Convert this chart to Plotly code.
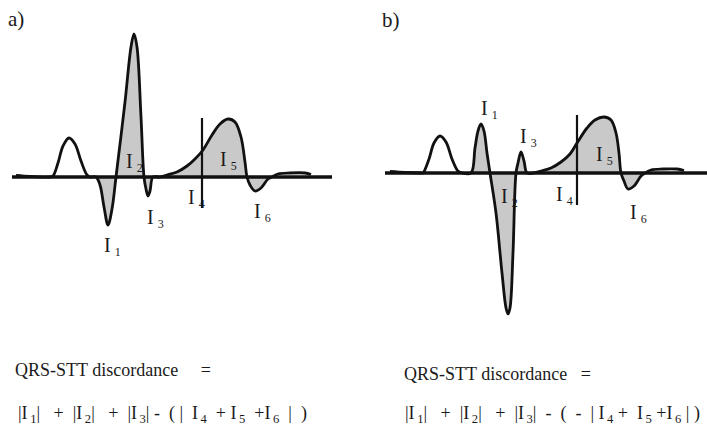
import plotly.graph_objects as go

# ---------------- data ----------------
# Panel a: time positions and amplitudes of the waveform control points
t_a = [16, 30, 50, 53, 58, 63, 69, 75, 81, 87, 90, 96,
       100, 104, 108, 112, 116,
       125, 131, 134, 137, 141, 144,
       146, 148, 150, 153, 160,
       167, 177, 187, 195, 203, 212, 220, 228, 235, 241, 245, 247,
       250, 255, 261, 268, 272,
       278, 290, 305, 311]
v_a = [1.5, 0.5, 0, 1, 14, 31, 39, 33, 16, 2, 0, 0,
       -8, -30, -48, -32, 0,
       75, 130, 143, 130, 60, 0,
       -12, -19, -14, 0, 0,
       2, 5, 11, 18, 27, 42, 53, 58, 55, 40, 15, 0,
       -8, -14, -11, -2, 0,
       3, 4, 4, 2.5]
fill_a = (11, 44)          # index range of shaded lobes (I1..I6)
base_a = [12, 332]
mark_a = 202               # vertical divider
mark_a_y = [59, -31]

# Panel b
t_b = [390, 405, 421, 423, 429, 434, 440, 446, 452, 458, 462, 471,
       475, 478, 481, 484, 487, 490,
       496, 502, 506, 508, 510, 513, 516,
       518, 521, 524, 527, 533,
       541, 551, 561, 570, 577, 587, 595, 604, 611, 616, 619, 621,
       624, 628, 634, 641, 645,
       651, 663, 677, 684]
v_b = [1.5, 0.5, 0, 0, 14, 30, 37, 31, 14, 2, 0, 0,
       25, 42, 49, 42, 20, 0,
       -40, -100, -135, -141, -135, -80, 0,
       10, 21, 12, 0, 0,
       2, 5, 11, 19, 30, 45, 53, 56, 53, 40, 20, 0,
       -8, -16, -13, -3, 0,
       3, 4, 4, 2.5]
fill_b = (11, 46)
base_b = [385, 707]
mark_b = 577
mark_b_y = [58, -32]

# labels: (subscript, x, y)
lab_a = [("1", 102, -69), ("2", 124, 15), ("3", 145, -41),
         ("4", 186, -21), ("5", 218, 17), ("6", 252, -35)]
lab_b = [("1", 479, 64), ("2", 499, -24), ("3", 518, 36),
         ("4", 554, -22), ("5", 594, 18), ("6", 628, -40)]

panel_titles = ["a)", "b)"]
eq_title = "QRS-STT discordance"
NB = "\u00a0"

# ---------------- figure ----------------
W, H = 707, 430
LINE = "#111111"
FILL = "#c9c9c9"
FONT = "Liberation Serif, Times New Roman, DejaVu Serif, serif"

fig = go.Figure()

def add_panel(t, v, fr, base, mark, mark_y, xa, ya):
    i0, i1 = fr
    fig.add_trace(go.Scatter(x=t[i0:i1 + 1], y=v[i0:i1 + 1], mode="lines",
                             line=dict(shape="spline", width=0, color=FILL),
                             fill="tozeroy", fillcolor=FILL,
                             xaxis=xa, yaxis=ya, hoverinfo="skip"))
    fig.add_trace(go.Scatter(x=base, y=[0, 0], mode="lines",
                             line=dict(width=3.5, color=LINE),
                             xaxis=xa, yaxis=ya, hoverinfo="skip"))
    fig.add_trace(go.Scatter(x=t, y=v, mode="lines",
                             line=dict(shape="spline", width=2.8, color=LINE),
                             xaxis=xa, yaxis=ya, hoverinfo="skip"))
    fig.add_trace(go.Scatter(x=[mark, mark], y=mark_y, mode="lines",
                             line=dict(width=2.2, color=LINE),
                             xaxis=xa, yaxis=ya, hoverinfo="skip"))

add_panel(t_a, v_a, fill_a, base_a, mark_a, mark_a_y, "x", "y")
add_panel(t_b, v_b, fill_b, base_b, mark_b, mark_b_y, "x2", "y2")

annots = []
for labs, xr, yr in [(lab_a, "x", "y"), (lab_b, "x2", "y2")]:
    for d, x, y in labs:
        annots.append(dict(x=x, y=y, xref=xr, yref=yr,
                           text="I\u2009<sub><span style='font-size:12px'>" + d + "</span></sub>",
                           showarrow=False, xanchor="left", yanchor="middle",
                           font=dict(family=FONT, size=20, color="#1a1a1a")))

def paper(px, py):
    return px / W, 1 - py / H

for title, (px, py) in zip(panel_titles, [(6, 19), (380, 20)]):
    x, y = paper(px, py)
    annots.append(dict(x=x, y=y, xref="paper", yref="paper", text=title, showarrow=False,
                       xanchor="left", yanchor="middle",
                       font=dict(family=FONT, size=21, color="#1a1a1a")))

def sub(d):
    return "I<sub>\u2009" + d + "</sub>"

def sp(n):
    return NB * n

row1 = [eq_title + sp(5) + "=", eq_title + sp(3) + "="]
row2 = [
    "|" + sub("1") + "|" + sp(3) + "+" + sp(2) + "|" + sub("2") + "|" + sp(3) + "+" + sp(2)
    + "|" + sub("3") + "|" + sp(1) + "-" + sp(2) + "(" + sp(1) + "|" + sp(2) + sub("4") + sp(2) + "+"
    + sp(1) + sub("5") + sp(2) + "+" + sub("6") + sp(2) + "|" + sp(2) + ")",
    "|" + sub("1") + "|" + sp(3) + "+" + sp(2) + "|" + sub("2") + "|" + sp(3) + "+" + sp(2)
    + "|" + sub("3") + "|" + sp(2) + "-" + sp(2) + "(" + sp(2) + "-" + sp(2) + "|" + sp(1) + sub("4")
    + sp(1) + "+" + sp(2) + sub("5") + sp(1) + "+" + sub("6") + sp(1) + "|" + sp(1) + ")",
]
for txt, (px, py) in zip(row1, [(13, 370), (402, 374)]):
    x, y = paper(px, py)
    annots.append(dict(x=x, y=y, xref="paper", yref="paper", text=txt, showarrow=False,
                       xanchor="left", yanchor="middle",
                       font=dict(family=FONT, size=18, color="#1a1a1a")))
for txt, (px, py) in zip(row2, [(16, 414), (403, 414)]):
    x, y = paper(px, py)
    annots.append(dict(x=x, y=y, xref="paper", yref="paper", text=txt, showarrow=False,
                       xanchor="left", yanchor="middle",
                       font=dict(family=FONT, size=18, color="#1a1a1a")))

ax = dict(visible=False, showgrid=False, zeroline=False, fixedrange=True)
fig.update_layout(
    width=W, height=H, margin=dict(l=0, r=0, t=0, b=0),
    paper_bgcolor="white", plot_bgcolor="white", showlegend=False,
    xaxis=dict(ax, domain=[0, 0.5], range=[0, W / 2]),
    xaxis2=dict(ax, domain=[0.5, 1], range=[W / 2, W]),
    yaxis=dict(ax, domain=[0, 1], range=[177 - H, 177]),
    yaxis2=dict(ax, domain=[0, 1], range=[173 - H, 173], anchor="x2"),
    annotations=annots,
)
fig.write_html("out.html")
